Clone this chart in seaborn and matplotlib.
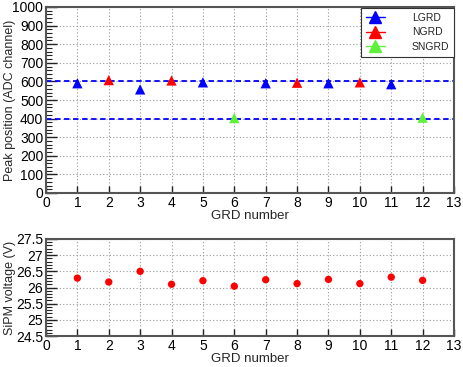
import matplotlib
matplotlib.use("Agg")
import matplotlib.pyplot as plt
import seaborn as sns
import pandas as pd
import numpy as np
from matplotlib.lines import Line2D
from matplotlib.ticker import MultipleLocator

sns.set_style("ticks")
plt.rcParams['font.family'] = ['Liberation Sans', 'DejaVu Sans']

# ---- data ----
grd = [1, 2, 3, 4, 5, 6, 7, 8, 9, 10, 11, 12]
detector_type = ["LGRD", "NGRD", "LGRD", "NGRD", "LGRD", "SNGRD",
                 "LGRD", "NGRD", "LGRD", "NGRD", "LGRD", "SNGRD"]
peak_position = [590, 607, 557, 605, 595, 403, 590, 593, 590, 595, 585, 405]
sipm_voltage = [26.29, 26.17, 26.50, 26.10, 26.21, 26.04,
                26.24, 26.12, 26.25, 26.12, 26.32, 26.22]
reference_levels = [600, 400]
type_order = ["LGRD", "NGRD", "SNGRD"]
type_colors = ["#0000ff", "#ff0000", "#5ff03a"]

df = pd.DataFrame({"GRD": grd, "type": detector_type,
                   "peak": peak_position, "voltage": sipm_voltage})

fig = plt.figure(figsize=(4.64, 3.67), dpi=100)
ax1 = fig.add_axes([46/464, 1-193/367, (454-46)/464, (193-7)/367])
ax2 = fig.add_axes([46/464, 1-336/367, (454-46)/464, (336-239)/367])

frame_col = "#555555"
grid_kw = dict(color="#999999", linestyle=(0, (1, 2)), linewidth=0.8)

# top panel
for lvl in reference_levels:
    ax1.axhline(lvl, color="#0000ff", linestyle=(0, (3, 2)), linewidth=1.3, zorder=2)
sns.scatterplot(data=df, x="GRD", y="peak", hue="type", hue_order=type_order,
                palette=type_colors, marker="^", s=55, edgecolor="none",
                ax=ax1, legend=False, zorder=3)
ax1.set_xlim(0, 13)
ax1.set_ylim(0, 1000)
ax1.xaxis.set_major_locator(MultipleLocator(1))
ax1.yaxis.set_major_locator(MultipleLocator(100))
ax1.yaxis.set_minor_locator(MultipleLocator(20))
ax1.set_xlabel("GRD number", fontsize=9.5, labelpad=0)
ax1.set_ylabel("Peak position (ADC channel)", fontsize=9.0)
ax1.yaxis.set_label_coords(-0.073, 0.5)

handles = [Line2D([0], [0], color=c, marker="^", markersize=8, linewidth=1.0)
           for c in type_colors]
leg = ax1.legend(handles, type_order, loc="upper right", bbox_to_anchor=(1.0, 0.995),
                 fontsize=7.5, frameon=True, fancybox=False, borderaxespad=0,
                 handlelength=1.8, handletextpad=2.6, labelspacing=0.45,
                 borderpad=0.45)
leg.get_frame().set_edgecolor("#333333")
leg.get_frame().set_linewidth(0.8)
leg.get_frame().set_alpha(1)

# bottom panel
sns.scatterplot(data=df, x="GRD", y="voltage", color="#ff0000", s=28,
                edgecolor="none", ax=ax2, zorder=3)
ax2.set_xlim(0, 13)
ax2.set_ylim(24.5, 27.5)
ax2.xaxis.set_major_locator(MultipleLocator(1))
ax2.yaxis.set_major_locator(MultipleLocator(0.5))
ax2.yaxis.set_minor_locator(MultipleLocator(0.1))
ax2.set_xlabel("GRD number", fontsize=9.5, labelpad=0)
ax2.set_ylabel("SiPM voltage (V)", fontsize=9.0)
ax2.yaxis.set_label_coords(-0.073, 0.5)
ax2.yaxis.set_major_formatter(matplotlib.ticker.FuncFormatter(
    lambda v, p: ("%g" % v)))

for ax in (ax1, ax2):
    ax.grid(True, which="major", **grid_kw)
    ax.set_axisbelow(True)
    for sp in ax.spines.values():
        sp.set_visible(True)
        sp.set_color(frame_col)
        sp.set_linewidth(1.5)
    ax.tick_params(axis="both", which="both", direction="in", labelsize=10,
                   colors="#222222", labelcolor="black", pad=2)
    ax.tick_params(axis="y", which="major", length=8, width=1.0)
    ax.tick_params(axis="y", which="minor", length=4, width=0.8)
    ax.tick_params(axis="x", which="major", length=5, width=1.0, pad=2)

fig.savefig("out.png", dpi=100)
